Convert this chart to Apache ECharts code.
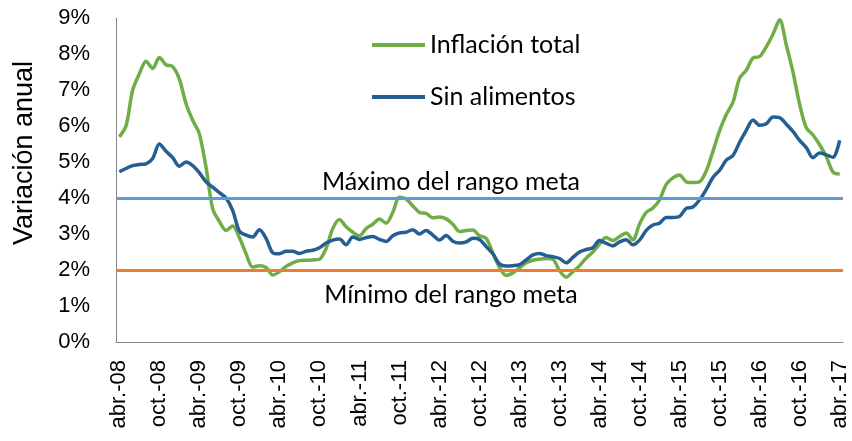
<!DOCTYPE html>
<html>
<head>
<meta charset="utf-8">
<script src="https://cdn.jsdelivr.net/npm/echarts@6/dist/echarts.min.js"></script>
<style>
  html, body { margin: 0; padding: 0; background: #fff; }
  #chart { width: 852px; height: 441px; }
</style>
</head>
<body>
<div id="chart"></div>
<script>
// months abr-08 .. abr-17
const monthNames = ['ene.', 'feb.', 'mar.', 'abr.', 'may.', 'jun.', 'jul.', 'ago.', 'sept.', 'oct.', 'nov.', 'dic.'];
const startYear = 2008, startMonth = 3, monthCount = 109;

// Inflación total (% anual)
const inflacionTotal = [
  5.7, 6.0, 7.0, 7.45, 7.8, 7.6, 7.9, 7.7, 7.65, 7.3,
  6.62, 6.16, 5.78, 4.85, 3.7, 3.35, 3.1, 3.22, 2.9, 2.45,
  2.08, 2.12, 2.07, 1.86, 1.95, 2.1, 2.2, 2.26, 2.27, 2.28,
  2.3, 2.6, 3.15, 3.4, 3.2, 3.05, 2.95, 3.15, 3.27, 3.42,
  3.3, 3.6, 4.02, 3.97, 3.78, 3.6, 3.57, 3.45, 3.47, 3.42,
  3.27, 3.07, 3.1, 3.11, 2.95, 2.88, 2.47, 2.07, 1.85, 1.92,
  2.06, 2.2, 2.27, 2.3, 2.32, 2.3, 1.98, 1.8, 1.95, 2.12,
  2.33, 2.5, 2.72, 2.9, 2.82, 2.93, 3.03, 2.84, 3.28, 3.6,
  3.72, 3.95, 4.38, 4.56, 4.64, 4.45, 4.43, 4.45, 4.75, 5.3,
  5.87, 6.32, 6.66, 7.33, 7.55, 7.89, 7.93, 8.2, 8.55, 8.95,
  8.25, 7.5, 6.6, 5.95, 5.75, 5.48, 5.15, 4.72, 4.67
];

// Sin alimentos (% anual)
const sinAlimentos = [
  4.73, 4.82, 4.9, 4.93, 4.95, 5.1, 5.5, 5.3, 5.12, 4.88,
  5.0, 4.9, 4.7, 4.45, 4.3, 4.15, 4.0, 3.65, 3.08, 2.97,
  2.92, 3.12, 2.88, 2.48, 2.45, 2.52, 2.52, 2.46, 2.52, 2.55,
  2.62, 2.75, 2.83, 2.86, 2.7, 2.92, 2.85, 2.9, 2.93, 2.85,
  2.79, 2.95, 3.03, 3.05, 3.12, 3.0, 3.1, 2.97, 2.83, 2.96,
  2.8, 2.75, 2.78, 2.88, 2.85, 2.65, 2.45, 2.17, 2.11, 2.12,
  2.15, 2.28, 2.42, 2.46, 2.4, 2.37, 2.32, 2.2, 2.35, 2.5,
  2.57, 2.62, 2.82, 2.74, 2.67, 2.78, 2.84, 2.7, 2.83, 3.1,
  3.25, 3.3, 3.46, 3.46, 3.49, 3.71, 3.75, 3.95, 4.24, 4.57,
  4.77, 5.05, 5.18, 5.55, 5.88, 6.17, 6.02, 6.06, 6.25, 6.23,
  6.05, 5.85, 5.6, 5.4, 5.12, 5.25, 5.2, 5.13, 5.6
];

// rango meta del banco central
const rangoMax = 4;
const rangoMin = 2;

const categories = [];
for (let k = 0; k < monthCount; k++) {
  const m = (startMonth + k) % 12;
  const y = startYear + Math.floor((startMonth + k) / 12);
  categories.push(monthNames[m] + '-' + String(y).slice(2));
}

const chart = echarts.init(document.getElementById('chart'), null, { renderer: 'canvas' });

chart.setOption({
  animation: false,
  backgroundColor: '#fff',
  grid: { left: 116, right: 9, top: 18, bottom: 99 },
  legend: {
    orient: 'vertical',
    left: 372,
    top: 30,
    padding: 0,
    itemGap: 22,
    itemWidth: 53,
    itemHeight: 4,
    icon: 'rect',
    data: ['Inflación total', 'Sin alimentos'],
    textStyle: { fontFamily: 'Lato', fontSize: 25, lineHeight: 30, color: '#000' }
  },
  xAxis: {
    type: 'category',
    data: categories,
    boundaryGap: true,
    axisLine: { lineStyle: { color: '#868686', width: 1 } },
    axisTick: { show: false },
    axisLabel: {
      interval: 5,
      rotate: 90,
      margin: 18,
      color: '#000',
      fontFamily: 'Liberation Sans',
      fontSize: 22
    }
  },
  yAxis: {
    type: 'value',
    min: 0,
    max: 9,
    interval: 1,
    splitLine: { show: false },
    axisLine: { show: true, lineStyle: { color: '#868686', width: 1 } },
    axisTick: { show: false },
    axisLabel: {
      formatter: '{value}%',
      margin: 26,
      color: '#000',
      fontFamily: 'Liberation Sans',
      fontSize: 22
    }
  },
  graphic: [
    {
      type: 'text',
      x: 25, y: 153,
      rotation: Math.PI / 2,
      style: {
        text: 'Variación anual',
        fill: '#000',
        font: '27px "Liberation Sans"',
        textAlign: 'center',
        textVerticalAlign: 'middle'
      }
    },
    {
      type: 'text',
      x: 451, y: 182,
      style: {
        text: 'Máximo del rango meta',
        fill: '#000',
        font: '25px Lato',
        textAlign: 'center',
        textVerticalAlign: 'middle'
      }
    },
    {
      type: 'text',
      x: 451, y: 295,
      style: {
        text: 'Mínimo del rango meta',
        fill: '#000',
        font: '25px Lato',
        textAlign: 'center',
        textVerticalAlign: 'middle'
      }
    }
  ],
  series: [
    {
      name: 'Rango meta',
      type: 'line',
      data: [],
      z: 1,
      markLine: {
        silent: true,
        symbol: ['none', 'none'],
        label: { show: false },
        data: [
          { yAxis: rangoMax, lineStyle: { color: '#5B9BD5', width: 3, type: 'solid' } },
          { yAxis: rangoMin, lineStyle: { color: '#ED7D31', width: 3, type: 'solid' } }
        ]
      }
    },
    {
      name: 'Inflación total',
      type: 'line',
      data: inflacionTotal,
      symbol: 'none',
      smooth: 0.3,
      z: 3,
      color: '#70AD47',
      lineStyle: { color: '#70AD47', width: 3.5 }
    },
    {
      name: 'Sin alimentos',
      type: 'line',
      data: sinAlimentos,
      symbol: 'none',
      smooth: 0.3,
      z: 4,
      color: '#255E91',
      lineStyle: { color: '#255E91', width: 3.5 }
    }
  ]
});
</script>
</body>
</html>
